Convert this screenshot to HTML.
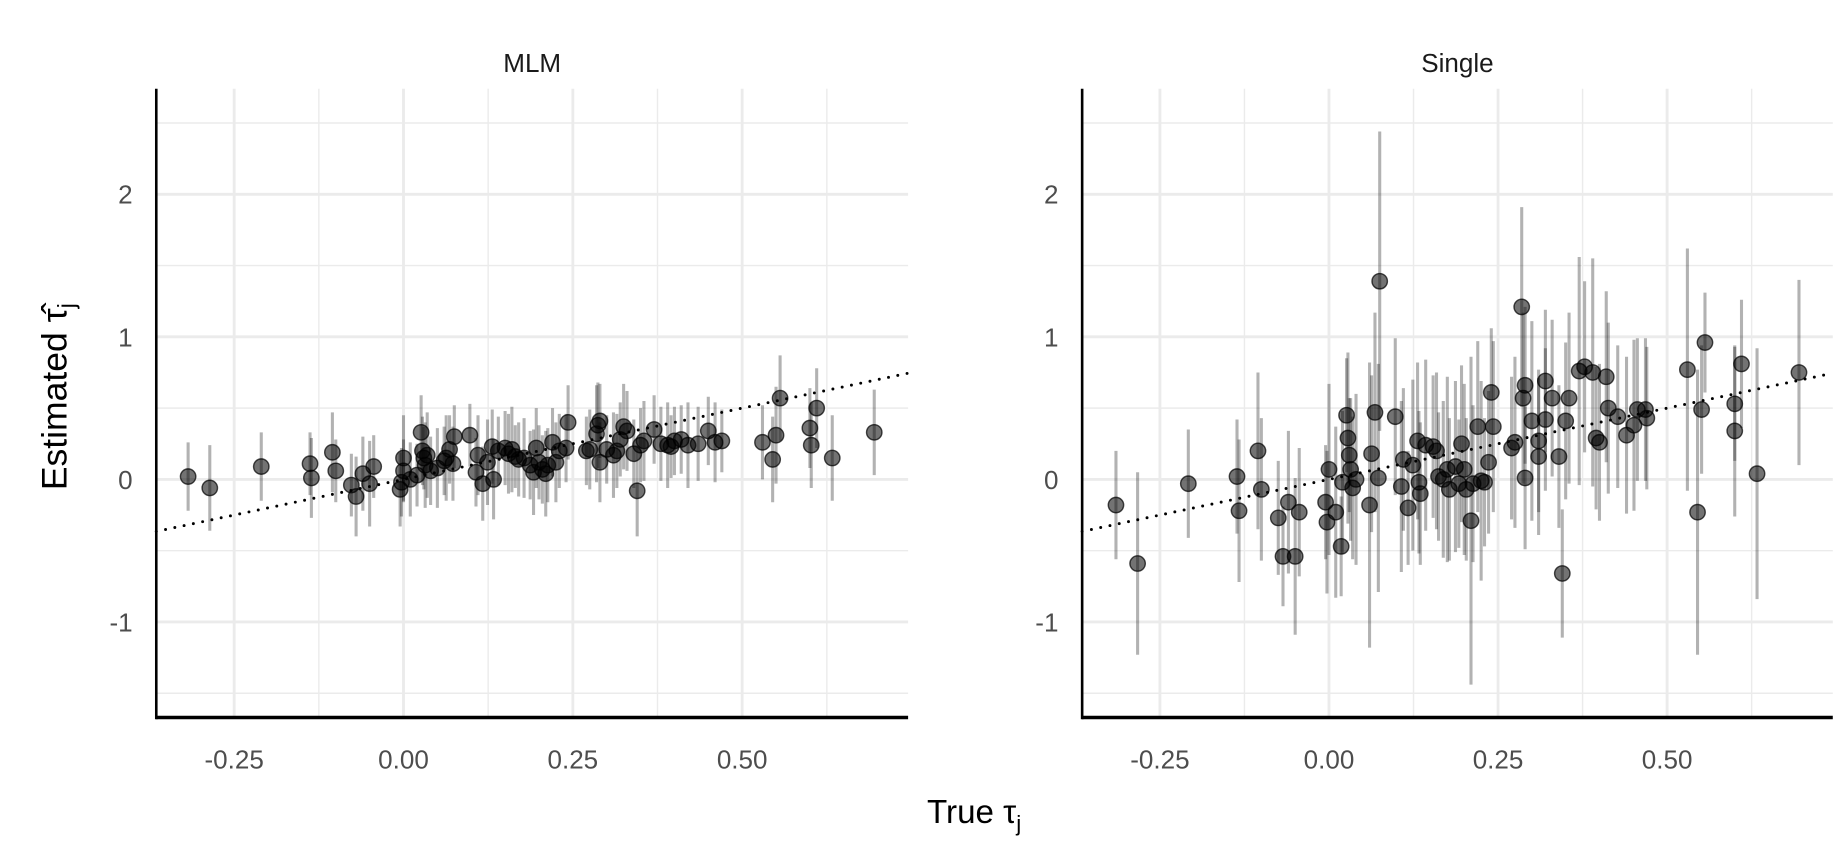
<!DOCTYPE html>
<html><head><meta charset="utf-8"><style>
html,body{margin:0;padding:0;background:#fff;}
svg{display:block;}
text{font-family:"Liberation Sans",sans-serif;}
</style></head><body>
<svg id="chart" width="1847" height="867" viewBox="0 0 1560 732.3" preserveAspectRatio="none" xmlns="http://www.w3.org/2000/svg"></svg>
<script>
// ---- data ----
const xTicks = [-0.25, 0, 0.25, 0.5];
const xTickLabels = ["-0.25", "0.00", "0.25", "0.50"];
const yTicks = [-1, 0, 1, 2];
const yTickLabels = ["-1", "0", "1", "2"];
const panelTitles = ["MLM", "Single"];

const mlmX = [-0.318,-0.286,-0.21,-0.138,-0.136,-0.105,-0.1,-0.077,-0.07,-0.06,-0.05,-0.044,-0.005,-0.003,0,0,0.01,0.02,0.026,0.028,0.03,0.032,0.035,0.04,0.05,0.06,0.063,0.068,0.073,0.075,0.098,0.107,0.11,0.117,0.124,0.131,0.133,0.14,0.15,0.155,0.16,0.165,0.17,0.178,0.187,0.192,0.196,0.2,0.205,0.21,0.213,0.22,0.225,0.23,0.24,0.243,0.27,0.275,0.285,0.287,0.29,0.29,0.3,0.31,0.315,0.32,0.325,0.33,0.34,0.345,0.35,0.355,0.37,0.38,0.39,0.395,0.4,0.41,0.42,0.435,0.45,0.46,0.47,0.53,0.545,0.55,0.556,0.6,0.602,0.61,0.633,0.695];
const mlmY = [0.02,-0.06,0.09,0.11,0.01,0.19,0.06,-0.04,-0.12,0.04,-0.03,0.09,-0.07,-0.02,0.06,0.15,0.0,0.03,0.33,0.2,0.15,0.1,0.17,0.06,0.08,0.13,0.15,0.21,0.11,0.3,0.31,0.05,0.17,-0.03,0.12,0.23,0.0,0.2,0.22,0.18,0.21,0.16,0.14,0.15,0.1,0.05,0.22,0.12,0.07,0.04,0.1,0.26,0.12,0.2,0.22,0.4,0.2,0.21,0.32,0.38,0.41,0.12,0.21,0.17,0.2,0.28,0.37,0.34,0.18,-0.08,0.24,0.27,0.35,0.25,0.24,0.23,0.27,0.28,0.24,0.25,0.34,0.26,0.27,0.26,0.14,0.31,0.57,0.36,0.24,0.5,0.15,0.33];
const mlmSE = [0.24,0.3,0.24,0.22,0.28,0.28,0.22,0.22,0.28,0.26,0.3,0.22,0.26,0.24,0.22,0.3,0.26,0.22,0.26,0.24,0.22,0.3,0.3,0.24,0.28,0.24,0.3,0.24,0.26,0.22,0.22,0.24,0.28,0.26,0.3,0.26,0.28,0.24,0.26,0.28,0.3,0.22,0.26,0.28,0.24,0.3,0.28,0.26,0.24,0.3,0.26,0.24,0.28,0.26,0.24,0.26,0.24,0.28,0.34,0.3,0.26,0.28,0.24,0.3,0.26,0.26,0.3,0.28,0.24,0.32,0.26,0.28,0.24,0.26,0.3,0.22,0.24,0.24,0.3,0.26,0.24,0.28,0.22,0.26,0.3,0.34,0.3,0.28,0.3,0.28,0.3,0.3];

const sgX = [-0.315,-0.283,-0.208,-0.136,-0.133,-0.105,-0.1,-0.075,-0.068,-0.06,-0.05,-0.044,-0.005,-0.003,0,0.01,0.018,0.02,0.026,0.028,0.03,0.032,0.035,0.04,0.06,0.063,0.068,0.073,0.075,0.098,0.107,0.11,0.117,0.124,0.131,0.133,0.135,0.143,0.154,0.159,0.162,0.169,0.175,0.178,0.187,0.192,0.196,0.2,0.203,0.21,0.213,0.22,0.225,0.23,0.236,0.24,0.243,0.27,0.275,0.285,0.287,0.29,0.29,0.3,0.31,0.31,0.32,0.32,0.33,0.34,0.345,0.35,0.355,0.37,0.378,0.39,0.395,0.4,0.41,0.413,0.427,0.44,0.451,0.456,0.468,0.47,0.53,0.545,0.551,0.556,0.6,0.6,0.61,0.633,0.695];
const sgY = [-0.18,-0.59,-0.03,0.02,-0.22,0.2,-0.07,-0.27,-0.54,-0.16,-0.54,-0.23,-0.16,-0.3,0.07,-0.23,-0.47,-0.02,0.45,0.29,0.17,0.07,-0.06,0.0,-0.18,0.18,0.47,0.01,1.39,0.44,-0.05,0.14,-0.2,0.1,0.27,-0.02,-0.1,0.24,0.23,0.2,0.02,0.0,0.07,-0.07,0.09,-0.03,0.25,0.07,-0.07,-0.29,-0.03,0.37,-0.01,-0.02,0.12,0.61,0.37,0.22,0.26,1.21,0.57,0.66,0.01,0.41,0.27,0.16,0.69,0.42,0.57,0.16,-0.66,0.41,0.57,0.76,0.79,0.75,0.29,0.26,0.72,0.5,0.44,0.31,0.38,0.49,0.49,0.43,0.77,-0.23,0.49,0.96,0.34,0.53,0.81,0.04,0.75];
const sgSE = [0.38,0.64,0.38,0.4,0.5,0.55,0.5,0.4,0.35,0.5,0.55,0.45,0.4,0.5,0.6,0.6,0.35,0.5,0.4,0.6,0.4,0.5,0.5,0.6,1.0,0.55,0.7,0.8,1.05,0.55,0.6,0.5,0.4,0.6,0.55,0.5,0.5,0.6,0.5,0.55,0.45,0.55,0.65,0.5,0.6,0.45,0.55,0.6,0.5,1.15,0.55,0.6,0.7,0.45,0.5,0.45,0.6,0.5,0.6,0.7,0.6,0.55,0.5,0.7,0.5,0.55,0.5,0.5,0.55,0.5,0.45,0.55,0.6,0.8,0.6,0.8,0.5,0.55,0.6,0.6,0.5,0.55,0.6,0.5,0.5,0.5,0.85,1.0,0.45,0.35,0.6,0.4,0.45,0.88,0.65];

// ---- drawing ----
const svgEl = document.getElementById('chart');
const NS = 'http://www.w3.org/2000/svg';
function mk(tag, attrs, parent) {
  const e = document.createElementNS(NS, tag);
  for (const k in attrs) e.setAttribute(k, attrs[k]);
  parent.appendChild(e);
  return e;
}
const X0 = -0.365, X1 = 0.745, Y0 = -1.67, Y1 = 2.74;
const panels = [{left:132, right:767, xs:mlmX, ys:mlmY, se:mlmSE}, {left:914, right:1548, xs:sgX, ys:sgY, se:sgSE}];
const plotTop = 75, plotBottom = 606;
function yScale(v) { return plotBottom - (v - Y0) / (Y1 - Y0) * (plotBottom - plotTop); }

panels.forEach((p, pi) => {
  const xScale = v => p.left + (v - X0) / (X1 - X0) * (p.right - p.left);
  const g = mk('g', {}, svgEl);
  
  
  [-1.5, -0.5, 0.5, 1.5, 2.5].forEach(v => {
    const l = mk('line', {x1:p.left, x2:p.right, y1:yScale(v), y2:yScale(v), stroke:'#ebebeb', 'stroke-width':1.2}, g);
    
    
  });
  [-0.125, 0.125, 0.375, 0.625].forEach(v => {
    const l = mk('line', {x1:xScale(v), x2:xScale(v), y1:plotTop, y2:plotBottom, stroke:'#ebebeb', 'stroke-width':1.2}, g);
    
    
  });
  yTicks.forEach((v, i) => {
    const l = mk('line', {x1:p.left, x2:p.right, y1:yScale(v), y2:yScale(v), stroke:'#ebebeb', 'stroke-width':2.4}, g);
    
    
    const t = mk('text', {x:p.left - 20, y:yScale(v) + 8, 'text-anchor':'end', 'font-size':22, fill:'#4d4d4d'}, g);
    t.textContent = yTickLabels[i];
    
    
  });
  xTicks.forEach((v, i) => {
    const l = mk('line', {x1:xScale(v), x2:xScale(v), y1:plotTop, y2:plotBottom, stroke:'#ebebeb', 'stroke-width':2.4}, g);
    
    
    const t = mk('text', {x:xScale(v), y:649, 'text-anchor':'middle', 'font-size':22, fill:'#4d4d4d'}, g);
    t.textContent = xTickLabels[i];
    
    
  });
  const d = mk('line', {x1:xScale(X0), y1:yScale(X0), x2:xScale(X1), y2:yScale(X1), stroke:'#000', 'stroke-width':2.5, 'stroke-dasharray':'0 8', 'stroke-linecap':'round'}, g);
  
  
  p.xs.forEach((x, i) => {
    const l = mk('line', {x1:xScale(x), x2:xScale(x), y1:yScale(p.ys[i] - p.se[i]), y2:yScale(p.ys[i] + p.se[i]), stroke:'#000', 'stroke-opacity':0.3, 'stroke-width':2.6}, g);
    
    
  });
  p.xs.forEach((x, i) => {
    const c = mk('circle', {cx:xScale(x), cy:yScale(p.ys[i]), r:6.5, fill:'#000', 'fill-opacity':0.55, stroke:'#000', 'stroke-opacity':0.7, 'stroke-width':1.2}, g);
    
    
  });
  const ay = mk('line', {x1:p.left, x2:p.left, y1:plotTop, y2:plotBottom + 1.5, stroke:'#000', 'stroke-width':2.2}, g);
  
  
  const ax = mk('line', {x1:p.left, x2:p.right, y1:plotBottom, y2:plotBottom, stroke:'#000', 'stroke-width':3}, g);
  
  
  const tt = mk('text', {x:(p.left + p.right) / 2, y:61, 'text-anchor':'middle', 'font-size':22, fill:'#1a1a1a'}, g);
  tt.textContent = panelTitles[pi];
  
  
});
</script>
<svg style="position:absolute;left:0;top:0" width="1847" height="867" viewBox="0 0 1560 732.3" preserveAspectRatio="none">
  <text x="783" y="695" font-size="28" fill="#000" font-family="Liberation Sans, sans-serif">True τ<tspan font-size="19" dy="7">j</tspan></text>
  <g transform="translate(56,335) rotate(-90)">
    <text x="0" y="0" text-anchor="middle" font-size="30" fill="#000" font-family="Liberation Sans, sans-serif">Estimated τ̂<tspan font-size="20" dy="7">j</tspan></text>
  </g>
</svg>
</body></html>
